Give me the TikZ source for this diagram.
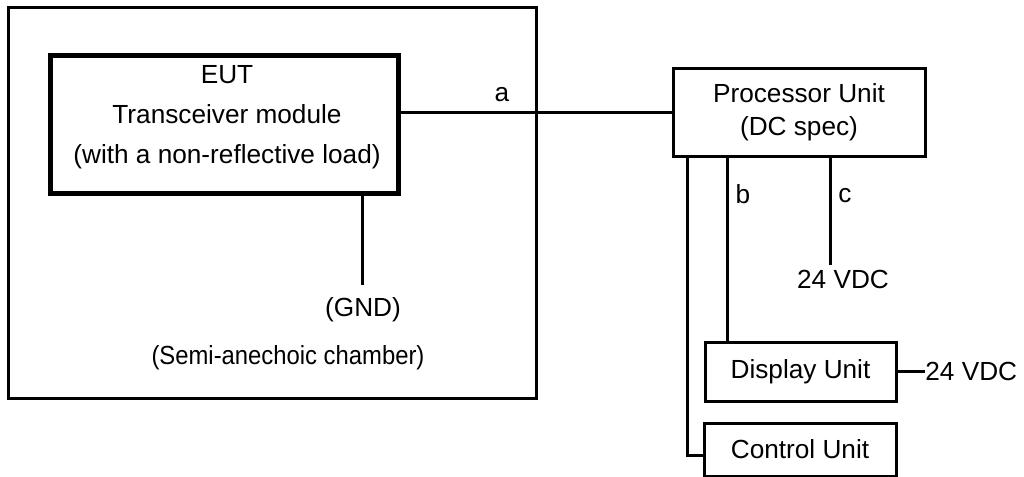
\documentclass[tikz,border=0pt]{standalone}
\usepackage{fontspec}
\setmainfont{Liberation Sans}
\begin{document}
\begin{tikzpicture}[x=0.5pt,y=-0.5pt,
  every node/.style={font=\fontsize{13.1}{16.5}\selectfont, inner sep=0pt},
  unitbox/.style={draw, line width=1.5pt, rectangle, align=center},
  wire/.style={line width=1.5pt},
  lbl/.style={}]
\useasboundingbox (0,0) rectangle (1024,477);
% chamber
\node[draw, line width=1.5pt, minimum width=264pt, minimum height=195.5pt] (chamber) at (272,202.5) {};
\node[lbl] (chambertext) at (288,358) {\scalebox{0.91}[1]{(Semi-anechoic chamber)}};
% EUT
\node[draw, line width=2.5pt, minimum width=174pt, minimum height=69pt] (eut) at (224,124) {};
\node[lbl, align=center, font=\fontsize{13.1}{20}\selectfont] (euttext) at (227,117.5) {EUT\\Transceiver module\\(with a non-reflective load)};
% GND
\coordinate (gndend) at (362,285);
\draw[wire] (gndend |- eut.south) -- (gndend);
\node[lbl] (gnd) at (363,310) {(GND)};
% Processor
\node[unitbox, minimum width=126pt, minimum height=44pt] (proc) at (799,112) {Processor Unit\\(DC spec)};
\draw[wire] (proc.west) -- (proc.west -| eut.east);
\node[lbl] (la) at (502,95) {a};
% Display
\node[unitbox, minimum width=95.5pt, minimum height=29.5pt] (disp) at (800.5,371.5) {Display Unit};
% Control
\node[unitbox, minimum width=96pt, minimum height=26.5pt] (ctrl) at (800,449.5) {Control Unit};
% left wire to control
\coordinate (ccorner) at (687,455);
\draw[wire] (proc.south -| ccorner) -- (ccorner) -- (ccorner -| ctrl.west);
% b
\coordinate (bx) at (727,300);
\draw[wire] (proc.south -| bx) -- (disp.north -| bx);
\node[lbl] (lb) at (743,194) {b};
% c
\coordinate (cend) at (830,265);
\draw[wire] (proc.south -| cend) -- (cend);
\node[lbl] (lc) at (845,196) {c};
\node[lbl] (vdc1) at (843,279) {24 VDC};
% display supply
\coordinate (dend) at (925,371.5);
\draw[wire] (disp.east) -- (dend);
\node[lbl, anchor=west] (vdc2) at (dend) {24 VDC};
\end{tikzpicture}
\end{document}
